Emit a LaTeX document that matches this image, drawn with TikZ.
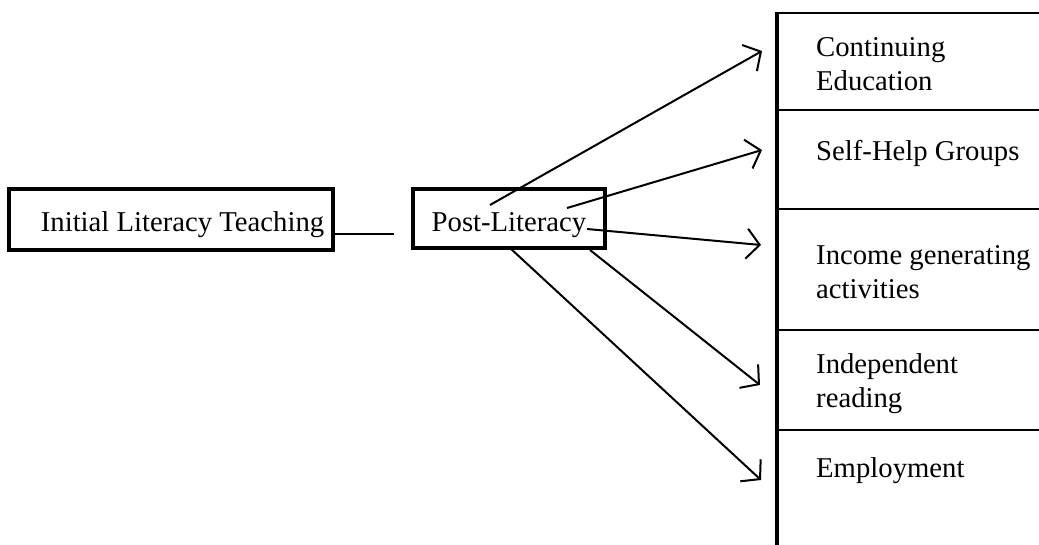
\documentclass[tikz,border=0pt]{standalone}
\usepackage{fontspec}
\setmainfont{Liberation Serif}
\usetikzlibrary{arrows.meta}
\newcommand\diagfont{\fontsize{28.7}{34}\selectfont}
\begin{document}
\begin{tikzpicture}[x=1pt,y=-1pt,
  box/.style={draw, line width=3.5pt, rectangle, font=\diagfont},
  cell/.style={draw, line width=1.8pt, rectangle, minimum width=272pt, inner sep=0pt},
  lbl/.style={anchor=base west, inner sep=0pt, align=left, font=\diagfont},
  arr/.style={line width=2pt, -{Straight Barb[length=13pt,width=30pt]}},
  link/.style={line width=2pt}]
\useasboundingbox (0,0) rectangle (1039,544);

% left boxes
\node[box, minimum width=324pt, minimum height=61pt, inner sep=0pt,
      text height=23pt, text depth=0pt] (ilt) at (171,219.5) {\hspace*{23pt}Initial Literacy Teaching};
\node[box, minimum width=192pt, minimum height=59pt, inner sep=0pt,
      text height=26pt, text depth=0pt] (pl) at (509,218.5) {Post-Literacy};

\coordinate (linkend) at (394,234);
\draw[link] (ilt.east |- linkend) -- (linkend);

% right column cells
\node[cell, minimum height=97pt]  (c1) at (914,61.5) {};
\node[cell, minimum height=99pt]  (c2) at (914,159.5) {};
\node[cell, minimum height=121pt] (c3) at (914,269.5) {};
\node[cell, minimum height=100pt] (c4) at (914,380) {};
\node[cell, minimum height=130pt] (c5) at (914,495) {};
\draw[line width=4pt] (c1.north west) -- (c5.south west);

% labels (base = baseline of the last line)
\node[lbl] (l1) at (816,90)  {Continuing\\Education};
\node[lbl] (l2) at (816,160) {Self-Help Groups};
\node[lbl] (l3) at (816,298) {Income generating\\activities};
\node[lbl] (l4) at (816,407) {Independent\\reading};
\node[lbl] (l5) at (816,477) {Employment};

% arrows
\coordinate (s1) at (490,205); \coordinate (t1) at (762,51);
\coordinate (s2) at (567,208); \coordinate (t2) at (762,150);
\coordinate (s3) at (587,229); \coordinate (t3) at (761,245);
\coordinate (s4) at (590,250); \coordinate (t4) at (760,385);
\coordinate (s5) at (510,248); \coordinate (t5) at (761,480);
\draw[arr] (s1) -- (t1);
\draw[arr] (s2) -- (t2);
\draw[arr] (s3) -- (t3);
\draw[arr] (s4) -- (t4);
\draw[arr] (s5) -- (t5);
\end{tikzpicture}
\end{document}
